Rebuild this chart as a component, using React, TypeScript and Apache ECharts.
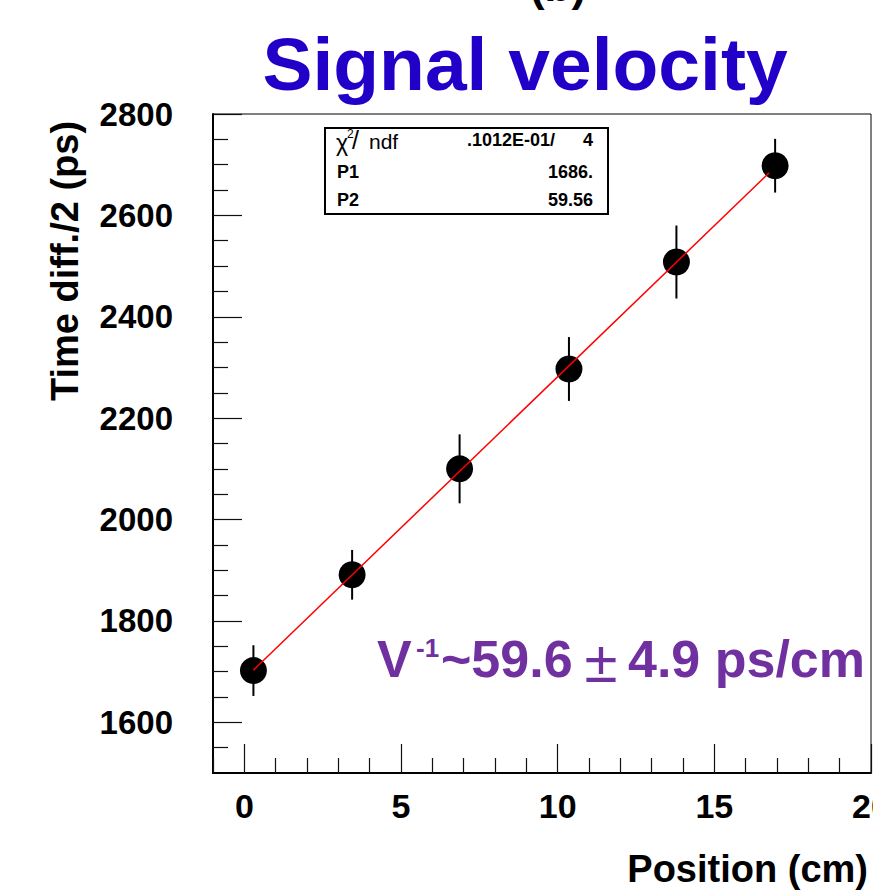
import { useEffect, useRef } from "react";
import * as echarts from "echarts";

// ---- data ----
const positions = [0.29, 3.44, 6.87, 10.36, 13.79, 16.94]; // cm
const timeDiffs = [1702, 1891, 2100, 2297, 2508, 2698]; // ps
const timeErrors = [50, 49, 68, 63, 72, 53]; // ps
const fitLineX = [0.29, 16.75];
const fitLineY = [1703, 2684];

const xMajorTicks = [0, 5, 10, 15, 20];
const yMajorTicks = [1600, 1800, 2000, 2200, 2400, 2600, 2800];
const xMinorTicks = [-1, 1, 2, 3, 4, 6, 7, 8, 9, 11, 12, 13, 14, 16, 17, 18, 19];
const yMinorTicks = [
  1550, 1650, 1700, 1750, 1850, 1900, 1950, 2050, 2100, 2150, 2250, 2300, 2350,
  2450, 2500, 2550, 2650, 2700, 2750,
];

const statsLabels = ["P1", "P2"];
const statsValues = ["1686.", "59.56"];
const chi2Value = ".1012E-01/";
const ndfValue = "4";

const titleText = "Signal velocity";
const panelTag = "(b)";
const xTitle = "Position (cm)";
const yTitle = "Time diff./2 (ps)";

const FONT = "'Liberation Sans', Arial, Helvetica, sans-serif";

export default function App() {
  const ref = useRef<HTMLDivElement>(null);

  useEffect(() => {
    if (!ref.current) return;
    const chart = echarts.init(ref.current, undefined, { renderer: "svg" });

    const errData = positions.map((p, i) => [p, timeDiffs[i], timeErrors[i]]);
    const ptData = positions.map((p, i) => [p, timeDiffs[i]]);
    const fitData = fitLineX.map((x, i) => [x, fitLineY[i]]);

    const labelStyle = {
      fontFamily: FONT,
      fontWeight: "bold" as const,
      fontSize: 34,
      color: "#000",
      formatter: (v: number) => String(v),
    };

    const tickLine = { color: "#111", width: 1.2 };

    chart.setOption({
      animation: false,
      backgroundColor: "#fff",
      grid: {
        left: 213,
        top: 114,
        right: 2,
        bottom: 118,
        containLabel: false,
        outerBoundsMode: "none",
        show: true,
        borderColor: "#000",
        borderWidth: 1,
        backgroundColor: "transparent",
      },
      xAxis: [
        {
          type: "value",
          position: "bottom",
          min: -1,
          max: 20,
          axisLine: { show: true, onZero: false, lineStyle: { color: "#000", width: 2 } },
          axisTick: {
            show: true,
            inside: true,
            length: 29,
            customValues: xMajorTicks,
            lineStyle: tickLine,
          },
          axisLabel: { ...labelStyle, margin: 16, customValues: xMajorTicks },
          splitLine: { show: false },
        },
        {
          type: "value",
          position: "bottom",
          min: -1,
          max: 20,
          axisLine: { show: false, onZero: false },
          axisTick: {
            show: true,
            inside: true,
            length: 15,
            customValues: xMinorTicks,
            lineStyle: tickLine,
          },
          axisLabel: { show: false },
          splitLine: { show: false },
        },
      ],
      yAxis: [
        {
          type: "value",
          position: "left",
          min: 1500,
          max: 2800,
          axisLine: { show: true, onZero: false, lineStyle: { color: "#000", width: 2 } },
          axisTick: {
            show: true,
            inside: true,
            length: 29,
            customValues: yMajorTicks,
            lineStyle: tickLine,
          },
          axisLabel: { ...labelStyle, fontSize: 33, margin: 40, customValues: yMajorTicks },
          splitLine: { show: false },
        },
        {
          type: "value",
          position: "left",
          min: 1500,
          max: 2800,
          axisLine: { show: false, onZero: false },
          axisTick: {
            show: true,
            inside: true,
            length: 15,
            customValues: yMinorTicks,
            lineStyle: tickLine,
          },
          axisLabel: { show: false },
          splitLine: { show: false },
        },
      ],
      series: [
        {
          type: "custom",
          xAxisIndex: 0,
          yAxisIndex: 0,
          z: 1,
          data: errData,
          encode: { x: 0, y: 1 },
          renderItem: (_params: any, api: any) => {
            const x = api.value(0);
            const y = api.value(1);
            const e = api.value(2);
            const top = api.coord([x, y + e]);
            const bot = api.coord([x, y - e]);
            return {
              type: "line",
              shape: { x1: top[0], y1: top[1], x2: bot[0], y2: bot[1] },
              style: { stroke: "#000", lineWidth: 2 },
            };
          },
        },
        {
          type: "scatter",
          xAxisIndex: 0,
          yAxisIndex: 0,
          z: 2,
          symbol: "circle",
          symbolSize: 27,
          itemStyle: { color: "#000", opacity: 1 },
          data: ptData,
        },
        {
          type: "line",
          xAxisIndex: 0,
          yAxisIndex: 0,
          z: 3,
          symbol: "none",
          lineStyle: { color: "#ff0000", width: 1.5 },
          data: fitData,
        },
      ],
      graphic: [
        {
          type: "text",
          x: 558,
          y: -15,
          style: {
            text: panelTag,
            fontFamily: FONT,
            fontWeight: "bold",
            fontSize: 44,
            fill: "#000",
            align: "center",
            verticalAlign: "middle",
          },
        },
        {
          type: "text",
          x: 525,
          y: 64,
          style: {
            text: titleText,
            fontFamily: FONT,
            fontWeight: "bold",
            fontSize: 75,
            fill: "#2200c8",
            align: "center",
            verticalAlign: "middle",
          },
        },
        {
          type: "text",
          x: 65,
          y: 261,
          rotation: Math.PI / 2,
          style: {
            text: yTitle,
            fontFamily: FONT,
            fontWeight: "bold",
            fontSize: 38,
            fill: "#000",
            align: "center",
            verticalAlign: "middle",
          },
        },
        {
          type: "text",
          x: 868,
          y: 869,
          style: {
            text: xTitle,
            fontFamily: FONT,
            fontWeight: "bold",
            fontSize: 38,
            fill: "#000",
            align: "right",
            verticalAlign: "middle",
          },
        },
        // stats box
        {
          type: "rect",
          z: 10,
          shape: { x: 325, y: 128, width: 283, height: 86 },
          style: { fill: "#fff", stroke: "#000", lineWidth: 2 },
        },
        {
          type: "text",
          z: 11,
          x: 336,
          y: 143,
          style: {
            text: "χ",
            fontFamily: FONT,
            fontSize: 23,
            fill: "#000",
            align: "left",
            verticalAlign: "middle",
          },
        },
        {
          type: "text",
          z: 11,
          x: 347,
          y: 134,
          style: {
            text: "2",
            fontFamily: FONT,
            fontSize: 12,
            fill: "#000",
            align: "left",
            verticalAlign: "middle",
          },
        },
        {
          type: "text",
          z: 11,
          x: 352,
          y: 140,
          style: {
            text: "/",
            fontFamily: FONT,
            fontSize: 25,
            fill: "#000",
            align: "left",
            verticalAlign: "middle",
          },
        },
        {
          type: "text",
          z: 11,
          x: 369,
          y: 141,
          style: {
            text: "ndf",
            fontFamily: FONT,
            fontSize: 21,
            fill: "#000",
            align: "left",
            verticalAlign: "middle",
          },
        },
        {
          type: "text",
          z: 11,
          x: 555,
          y: 140,
          style: {
            text: chi2Value,
            fontFamily: FONT,
            fontWeight: "bold",
            fontSize: 18,
            fill: "#000",
            align: "right",
            verticalAlign: "middle",
          },
        },
        {
          type: "text",
          z: 11,
          x: 593,
          y: 140,
          style: {
            text: ndfValue,
            fontFamily: FONT,
            fontWeight: "bold",
            fontSize: 18,
            fill: "#000",
            align: "right",
            verticalAlign: "middle",
          },
        },
        ...statsLabels.flatMap((lab, i) => [
          {
            type: "text",
            z: 11,
            x: 337,
            y: 171.5 + i * 28.5,
            style: {
              text: lab,
              fontFamily: FONT,
              fontWeight: "bold",
              fontSize: 18,
              fill: "#000",
              align: "left",
              verticalAlign: "middle",
            },
          },
          {
            type: "text",
            z: 11,
            x: 593,
            y: 171.5 + i * 28.5,
            style: {
              text: statsValues[i],
              fontFamily: FONT,
              fontWeight: "bold",
              fontSize: 18,
              fill: "#000",
              align: "right",
              verticalAlign: "middle",
            },
          },
        ]),
        // velocity annotation
        {
          type: "text",
          x: 377,
          y: 659,
          style: {
            text: "V",
            fontFamily: FONT,
            fontWeight: "bold",
            fontSize: 52,
            fill: "#7030a0",
            align: "left",
            verticalAlign: "middle",
          },
        },
        {
          type: "text",
          x: 416,
          y: 648,
          style: {
            text: "-1",
            fontFamily: FONT,
            fontWeight: "bold",
            fontSize: 26,
            fill: "#7030a0",
            align: "left",
            verticalAlign: "middle",
          },
        },
        {
          type: "text",
          x: 441,
          y: 659,
          style: {
            text: "~59.6",
            fontFamily: FONT,
            fontWeight: "bold",
            fontSize: 52,
            fill: "#7030a0",
            align: "left",
            verticalAlign: "middle",
          },
        },
        {
          type: "text",
          x: 601,
          y: 661,
          style: {
            text: "±",
            fontFamily: FONT,
            fontWeight: "normal",
            fontSize: 60,
            fill: "#7030a0",
            align: "center",
            verticalAlign: "middle",
          },
        },
        {
          type: "text",
          x: 628,
          y: 659,
          style: {
            text: "4.9 ps/cm",
            fontFamily: FONT,
            fontWeight: "bold",
            fontSize: 52,
            fill: "#7030a0",
            align: "left",
            verticalAlign: "middle",
          },
        },
      ],
    });

    return () => chart.dispose();
  }, []);

  return (
    <div
      ref={ref}
      style={{ position: "fixed", left: 0, top: 0, width: 873, height: 891 }}
    />
  );
}
